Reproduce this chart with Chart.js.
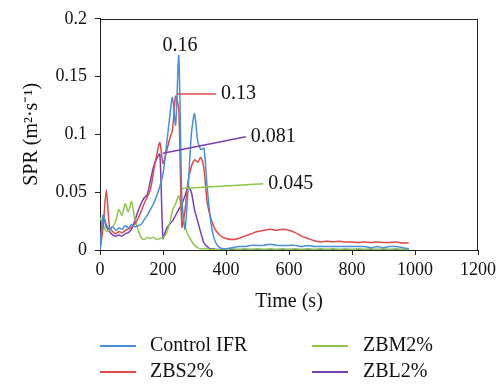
<!DOCTYPE html>
<html>
<head>
<meta charset="utf-8">
<script src="https://cdn.jsdelivr.net/npm/chart.js@4/dist/chart.umd.min.js"></script>
<style>
  html, body { margin: 0; padding: 0; background: #fff; }
</style>
</head>
<body>
<canvas id="sprChart" width="500" height="388"></canvas>
<script>
// time axis (s): 10 s steps to 400, then 20 s steps to 980
const times = [
  0, 10, 20, 30, 40, 50, 60, 70, 80, 90, 100, 110, 120, 130, 140, 150, 160, 170, 180, 190,
  200, 210, 220, 230, 240, 250, 260, 270, 280, 290, 300, 310, 320, 330, 340, 350, 360, 370, 380, 390, 400,
  420, 440, 460, 480, 500, 520, 540, 560, 580, 600, 620, 640, 660, 680, 700, 720, 740, 760, 780,
  800, 820, 840, 860, 880, 900, 920, 940, 960, 980
];

const controlIFR = [
  0, 0.03, 0.022, 0.018, 0.02, 0.017, 0.019, 0.018, 0.021, 0.019, 0.022, 0.02, 0.021, 0.022, 0.026, 0.03, 0.035, 0.04, 0.047, 0.055,
  0.066, 0.088, 0.112, 0.132, 0.108, 0.168, 0.045, 0.018, 0.055, 0.1, 0.118, 0.095, 0.087, 0.088, 0.055, 0.028, 0.012, 0.005, 0.002, 0.001, 0.001,
  0.002, 0.003, 0.003, 0.004, 0.004, 0.004, 0.005, 0.004, 0.004, 0.004, 0.004, 0.003, 0.004, 0.003, 0.003, 0.003, 0.003, 0.003, 0.003,
  0.003, 0.003, 0.003, 0.002, 0.003, 0.002, 0.003, 0.003, 0.002, 0.001
];

const zbs2 = [
  0, 0.02, 0.052, 0.02, 0.016, 0.014, 0.016, 0.015, 0.017, 0.018, 0.02, 0.022, 0.027, 0.033, 0.04, 0.046, 0.052, 0.068, 0.082, 0.093,
  0.075, 0.084, 0.095, 0.104, 0.133, 0.122, 0.02, 0.035, 0.06, 0.072, 0.078, 0.076, 0.08, 0.07, 0.042, 0.029, 0.021, 0.016, 0.013, 0.011, 0.01,
  0.009, 0.01, 0.012, 0.014, 0.016, 0.017, 0.018, 0.017, 0.018, 0.017, 0.015, 0.012, 0.01, 0.008, 0.007, 0.0075, 0.007, 0.0075, 0.007,
  0.007, 0.0065, 0.007, 0.0065, 0.007, 0.0065, 0.0065, 0.007, 0.006, 0.006
];

const zbm2 = [
  0.028, 0.022, 0.016, 0.018, 0.02, 0.025, 0.035, 0.03, 0.04, 0.033, 0.042, 0.028, 0.018, 0.011, 0.009, 0.011, 0.01, 0.011, 0.009, 0.01,
  0.011, 0.014, 0.022, 0.034, 0.04, 0.047, 0.032, 0.02, 0.013, 0.008, 0.004, 0.002, 0.001, 0.001, 0.001, 0.0005, 0.0005, 0.0005, 0.0005, 0.0005, 0.0005,
  0.001, 0.0005, 0.001, 0.0005, 0.001, 0.0005, 0.001, 0.0005, 0.001, 0.0005, 0.001, 0.0005, 0.001, 0.0005, 0.001, 0.0005, 0.001, 0.0005, 0.001,
  0.0005, 0.001, 0.0005, 0.001, 0.0005, 0.001, 0.0005, 0.001, 0.0005, 0.0005
];

const zbl2 = [
  0, 0.03, 0.02, 0.016, 0.013, 0.012, 0.013, 0.012, 0.014, 0.015, 0.018, 0.025, 0.033, 0.04, 0.045, 0.048, 0.06, 0.072, 0.079, 0.083,
  0.01, 0.018, 0.022, 0.025, 0.03, 0.035, 0.04, 0.047, 0.055, 0.05, 0.035, 0.025, 0.015, 0.006, 0.003, 0.001, 0.001, 0.0005, 0.0005, 0.0005, 0.0005,
  0.0005, 0.0005, 0.0005, 0.0005, 0.0005, 0.0005, 0.0005, 0.0005, 0.0005, 0.0005, 0.0005, 0.0005, 0.0005, 0.0005, 0.0005, 0.0005, 0.0005, 0.0005, 0.0005,
  0.0005, 0.0005, 0.0005, 0.0005, 0.0005, 0.0005, 0.0005, 0.0005, 0.0005, 0.0005
];

const seriesNames = ['Control IFR', 'ZBS2%', 'ZBM2%', 'ZBL2%'];
const seriesColors = ['#4a8fd6', '#dc4a4a', '#8cc84b', '#7b3fb4'];
const xTicks = [0, 200, 400, 600, 800, 1000, 1200];
const yTicks = [0, 0.05, 0.1, 0.15, 0.2];

// peak call-outs: [label, line start (t, v), line end (t, v)]
const peakLabels = ['0.16', '0.13', '0.081', '0.045'];
const peakFrom = [null, [244, 0.135], [200, 0.0836], [260, 0.0532]];
const peakTo = [[254, 0.177], [368, 0.135], [463, 0.0979], [518, 0.0574]];

const FONT = '"Liberation Serif", "Times New Roman", serif';

const toPoints = vals => vals.map((v, i) => ({ x: times[i], y: v }));

const frameAndNotes = {
  id: 'frameAndNotes',
  afterDraw(chart) {
    const { ctx, chartArea: a, scales: { x, y } } = chart;
    ctx.save();
    // top and right edges of the box
    ctx.strokeStyle = '#222';
    ctx.lineWidth = 1;
    ctx.beginPath();
    ctx.moveTo(a.left, Math.round(a.top) + 0.5);
    ctx.lineTo(a.right, Math.round(a.top) + 0.5);
    ctx.moveTo(Math.round(a.right) - 0.5, a.top);
    ctx.lineTo(Math.round(a.right) - 0.5, a.bottom);
    ctx.stroke();

    // call-outs
    ctx.font = '20px ' + FONT;
    ctx.fillStyle = '#111';
    ctx.textBaseline = 'middle';
    peakLabels.forEach((txt, i) => {
      const end = peakTo[i];
      const ex = x.getPixelForValue(end[0]);
      const ey = y.getPixelForValue(end[1]);
      if (peakFrom[i]) {
        const col = seriesColors[[0, 1, 3, 2][i]];
        ctx.strokeStyle = col;
        ctx.lineWidth = 1.5;
        ctx.beginPath();
        ctx.moveTo(x.getPixelForValue(peakFrom[i][0]), y.getPixelForValue(peakFrom[i][1]));
        ctx.lineTo(ex, ey);
        ctx.stroke();
        ctx.textAlign = 'left';
        ctx.fillText(txt, ex + 5, ey);
      } else {
        ctx.textAlign = 'center';
        ctx.fillText(txt, ex, ey);
      }
    });

    // legend, two columns
    const cols = [[100, 150], [312, 363]];
    const rows = [346, 372];
    const slots = [[0, 0], [0, 1], [1, 0], [1, 1]]; // [col,row] for each series
    ctx.textAlign = 'left';
    seriesNames.forEach((name, i) => {
      const [c, r] = slots[i];
      const lx = cols[c][0];
      const ly = rows[r];
      ctx.strokeStyle = seriesColors[i];
      ctx.lineWidth = 2;
      ctx.beginPath();
      ctx.moveTo(lx, ly);
      ctx.lineTo(lx + 36, ly);
      ctx.stroke();
      ctx.fillStyle = '#111';
      ctx.fillText(name, cols[c][1], ly);
    });
    ctx.restore();
  }
};

new Chart(document.getElementById('sprChart'), {
  type: 'line',
  data: {
    datasets: [controlIFR, zbs2, zbm2, zbl2].map((vals, i) => ({
      label: seriesNames[i],
      data: toPoints(vals),
      borderColor: seriesColors[i],
      borderWidth: 1.5,
      pointRadius: 0,
      tension: 0.25,
      fill: false
    }))
  },
  options: {
    responsive: false,
    animation: false,
    devicePixelRatio: 1,
    layout: { padding: { left: 0, top: 13, right: 21, bottom: 74 } },
    plugins: { legend: { display: false }, tooltip: { enabled: false } },
    scales: {
      x: {
        type: 'linear',
        min: 0,
        max: 1200,
        afterBuildTicks: s => { s.ticks = xTicks.map(v => ({ value: v })); },
        afterFit: s => { s.height = 64; },
        ticks: {
          font: { family: FONT, size: 18 },
          color: '#111',
          padding: 4,
          maxRotation: 0,
          callback: v => String(v)
        },
        grid: { drawOnChartArea: false, drawTicks: true, tickLength: 5, tickColor: '#222' },
        border: { color: '#222', width: 1 },
        title: { display: true, text: 'Time (s)', font: { family: FONT, size: 20 }, color: '#111', padding: { top: 0, bottom: 0 } }
      },
      y: {
        min: 0,
        max: 0.2,
        afterBuildTicks: s => { s.ticks = yTicks.map(v => ({ value: v })); },
        afterFit: s => { s.width = 100; },
        ticks: {
          font: { family: FONT, size: 18 },
          color: '#111',
          padding: 8,
          callback: v => String(+v.toFixed(2))
        },
        grid: { drawOnChartArea: false, drawTicks: true, tickLength: 5, tickColor: '#222' },
        border: { color: '#222', width: 1 },
        title: { display: true, text: 'SPR (m²·s⁻¹)', font: { family: FONT, size: 20 }, color: '#111', padding: { top: 20, bottom: 0 } }
      }
    }
  },
  plugins: [frameAndNotes]
});
</script>
</body>
</html>
